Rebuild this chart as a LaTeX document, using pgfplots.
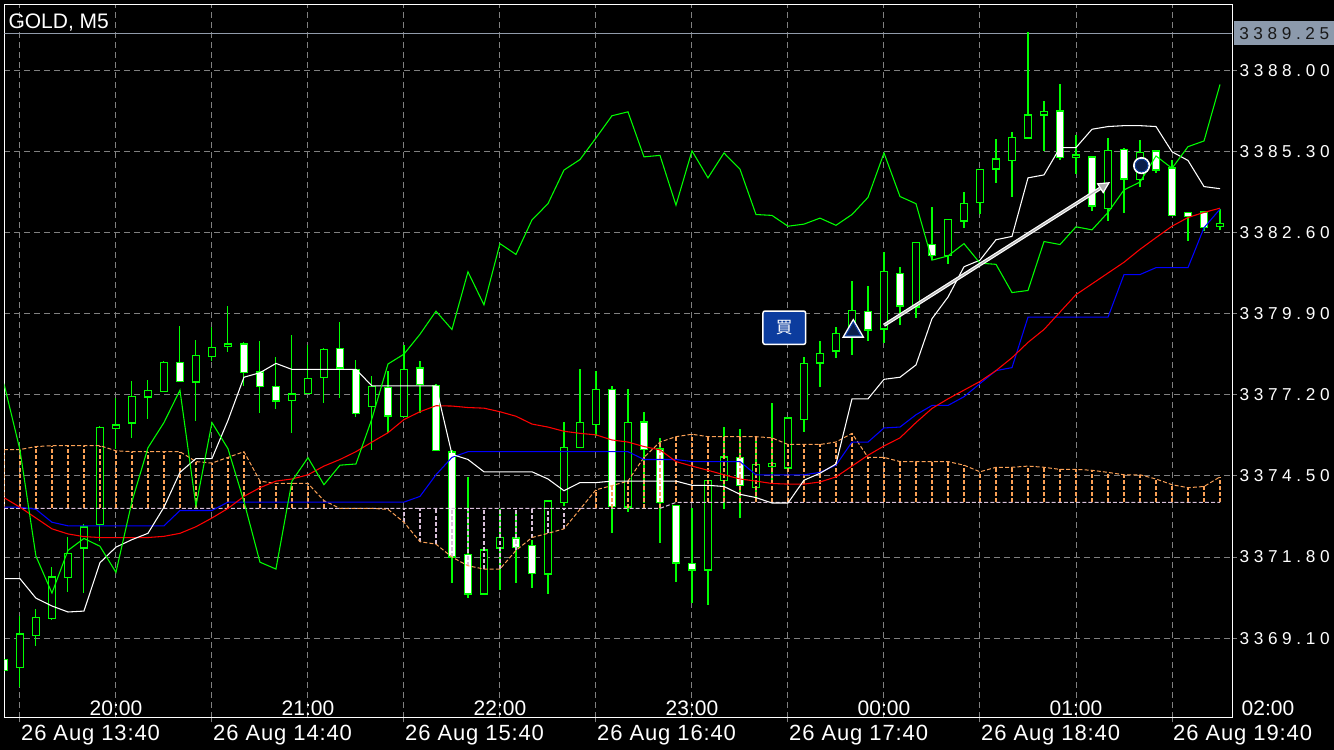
\documentclass[border=0pt]{standalone}
\usepackage{pgfplots}
\pgfplotsset{compat=1.18}
\usepackage{pgfplotstable}
\usepackage{fontspec}
\setmainfont{Liberation Sans}
\newfontfamily\pricefont[LetterSpace=27]{Liberation Sans}
\newfontfamily\datefont[LetterSpace=4]{Liberation Sans}
\newfontfamily\cjk{Noto Sans CJK JP}
\usetikzlibrary{arrows.meta,backgrounds}

\definecolor{mtgrid}{RGB}{128,128,128}
\definecolor{mtlime}{RGB}{0,255,0}
\definecolor{sandy}{RGB}{250,160,85}
\definecolor{thistle}{RGB}{216,191,216}
\definecolor{bidline}{RGB}{145,155,170}
\definecolor{bidbox}{RGB}{140,154,172}
\definecolor{buyblue}{RGB}{12,60,158}
\definecolor{navyfill}{RGB}{10,30,75}

% candles: i open high low close
\pgfplotstableread{
i o h l c
0 3368.15 3369.85 3367.48 3369.22
1 3369.23 3370.07 3368.84 3369.78
2 3369.78 3371.47 3369.71 3371.12
3 3371.15 3372.48 3370.65 3371.92
4 3372.13 3372.91 3370.60 3372.78
5 3372.91 3376.17 3372.33 3376.09
6 3376.12 3377.10 3375.41 3376.19
7 3376.28 3377.65 3375.77 3377.11
8 3377.17 3377.72 3376.42 3377.34
9 3377.36 3378.33 3377.33 3378.27
11 3377.65 3379.05 3376.35 3378.49
12 3378.51 3379.48 3378.34 3378.77
13 3378.86 3380.17 3378.63 3378.88
17 3377.04 3379.19 3375.94 3377.21
18 3377.27 3378.87 3377.25 3377.72
19 3377.82 3378.76 3376.93 3378.70
22 3376.84 3377.82 3375.37 3377.47
24 3376.52 3378.87 3376.50 3378.05
29 3370.60 3372.05 3370.57 3372.02
30 3372.12 3373.39 3370.69 3372.42
33 3371.27 3373.68 3370.57 3373.65
34 3373.65 3376.30 3373.50 3375.44
35 3375.48 3378.08 3375.46 3376.28
36 3376.25 3378.01 3375.84 3377.36
38 3373.50 3377.39 3373.32 3376.28
43 3371.40 3374.35 3370.21 3374.33
44 3374.38 3376.13 3373.39 3375.11
46 3374.15 3375.66 3373.68 3374.86
47 3374.86 3376.95 3374.33 3374.90
48 3374.79 3376.43 3374.77 3376.41
49 3376.41 3378.49 3375.99 3378.23
50 3378.30 3378.99 3377.47 3378.56
51 3378.69 3379.48 3378.44 3379.22
52 3379.24 3381.01 3378.54 3379.99
54 3379.42 3381.98 3378.95 3381.30
56 3380.15 3382.31 3379.78 3382.24
58 3381.88 3383.06 3381.55 3383.03
59 3383.03 3383.97 3382.77 3383.57
60 3383.64 3384.71 3383.25 3384.69
61 3384.75 3385.73 3384.26 3385.04
62 3385.05 3385.98 3383.81 3385.76
63 3385.78 3389.30 3385.76 3386.50
64 3386.56 3387.00 3385.33 3386.63
66 3385.16 3385.88 3384.58 3385.18
68 3383.45 3385.76 3382.99 3385.33
70 3384.40 3385.70 3384.14 3385.26
75 3382.85 3383.39 3382.70 3382.89
}\bull
\pgfplotstableread{
i o h l c
-1 3368.38 3368.50 3367.95 3368.05
10 3378.27 3379.52 3377.68 3377.68
14 3378.87 3378.99 3377.50 3377.97
15 3377.94 3378.99 3376.61 3377.50
16 3377.47 3378.49 3376.75 3377.03
20 3378.73 3379.64 3377.10 3378.12
21 3378.04 3378.37 3376.46 3376.61
23 3377.43 3378.01 3375.94 3376.52
25 3378.08 3378.34 3376.61 3377.58
26 3377.50 3377.55 3375.35 3375.37
27 3375.29 3375.35 3370.93 3371.83
28 3371.87 3374.47 3370.43 3370.60
31 3372.42 3373.39 3370.93 3372.16
32 3372.16 3372.38 3370.79 3371.29
37 3377.36 3377.50 3372.62 3373.50
39 3376.28 3376.64 3373.63 3375.41
40 3375.38 3375.77 3372.26 3373.65
41 3373.50 3373.55 3370.98 3371.63
42 3371.58 3373.46 3370.28 3371.40
45 3375.11 3376.06 3373.10 3374.21
53 3379.96 3380.82 3378.98 3379.38
55 3381.23 3381.47 3379.52 3380.20
57 3382.20 3383.45 3381.69 3381.88
65 3386.63 3387.58 3385.05 3385.13
67 3385.11 3385.13 3383.35 3383.52
69 3385.37 3385.44 3383.25 3384.43
71 3385.30 3385.32 3384.61 3384.72
72 3384.75 3385.01 3383.21 3383.21
73 3383.25 3383.27 3382.34 3383.18
74 3383.28 3383.32 3382.67 3382.82
}\bear
% indicator lines: G green, W white, R red, Bl blue, A sandy span, Bk thistle span
\pgfplotstableread{
i G W R Bl A Bk
-1 3377.58 3371.08 3373.78 3373.46 3375.38 3373.42
0 3375.37 3371.08 3373.46 3373.46 3375.38 3373.42
1 3371.83 3370.43 3373.10 3373.39 3375.48 3373.42
2 3370.60 3370.17 3372.74 3372.96 3375.51 3373.42
3 3372.02 3369.97 3372.57 3372.84 3375.51 3373.42
4 3372.42 3370.00 3372.48 3372.84 3375.51 3373.42
5 3372.16 3371.61 3372.45 3372.84 3375.51 3373.42
6 3371.29 3372.13 3372.45 3372.84 3375.34 3373.42
7 3373.65 3372.38 3372.45 3372.84 3375.31 3373.42
8 3375.44 3372.59 3372.45 3372.84 3375.31 3373.42
9 3376.28 3373.46 3372.49 3372.84 3375.31 3373.42
10 3377.36 3374.62 3372.59 3373.35 3375.31 3373.42
11 3373.50 3375.08 3372.81 3373.35 3374.98 3373.42
12 3376.28 3375.08 3373.10 3373.35 3374.93 3373.42
13 3375.41 3376.35 3373.42 3373.63 3375.12 3373.42
14 3373.65 3377.79 3373.82 3373.63 3375.31 3373.42
15 3371.63 3377.94 3374.11 3373.63 3374.33 3373.42
16 3371.40 3378.25 3374.33 3373.63 3374.25 3373.42
17 3374.33 3378.05 3374.40 3373.63 3374.25 3373.42
18 3375.11 3378.05 3374.54 3373.63 3374.25 3373.42
19 3374.21 3378.05 3374.83 3373.63 3373.68 3373.42
20 3374.86 3378.05 3375.05 3373.63 3373.42 3373.42
21 3374.90 3378.05 3375.31 3373.63 3373.42 3373.42
22 3376.41 3377.50 3375.63 3373.63 3373.42 3373.42
23 3378.23 3377.50 3375.94 3373.63 3373.39 3373.42
24 3378.56 3377.50 3376.38 3373.63 3372.96 3373.42
25 3379.22 3377.50 3376.64 3373.82 3372.31 3373.42
26 3379.99 3377.50 3376.84 3374.54 3372.23 3373.42
27 3379.38 3375.22 3376.83 3375.12 3371.80 3373.42
28 3381.30 3375.05 3376.78 3375.31 3371.51 3373.42
29 3380.20 3374.64 3376.76 3375.31 3371.40 3373.42
30 3382.24 3374.64 3376.64 3375.31 3371.40 3373.42
31 3381.88 3374.64 3376.49 3375.31 3372.02 3373.42
32 3383.03 3374.64 3376.23 3375.31 3372.45 3373.42
33 3383.57 3374.40 3376.13 3375.31 3372.59 3373.42
34 3384.69 3374.01 3375.99 3375.31 3372.74 3373.42
35 3385.04 3374.28 3375.92 3375.31 3373.39 3373.42
36 3385.76 3374.28 3375.87 3375.31 3374.04 3373.42
37 3386.50 3374.33 3375.70 3375.31 3374.18 3373.42
38 3386.63 3374.33 3375.63 3375.31 3374.33 3373.42
39 3385.13 3374.33 3375.48 3375.05 3375.12 3373.42
40 3385.18 3374.33 3375.37 3375.05 3375.63 3373.42
41 3383.52 3374.33 3374.98 3375.05 3375.81 3373.62
42 3385.33 3374.19 3374.83 3374.98 3375.89 3373.62
43 3384.43 3374.19 3374.69 3374.98 3375.81 3373.62
44 3385.26 3374.15 3374.54 3374.98 3375.81 3373.62
45 3384.72 3373.89 3374.40 3374.98 3375.81 3373.62
46 3383.21 3373.78 3374.33 3374.54 3375.81 3373.62
47 3383.18 3373.60 3374.25 3374.54 3375.77 3373.62
48 3382.82 3373.60 3374.23 3374.54 3375.55 3373.62
49 3382.89 3374.36 3374.23 3374.54 3375.55 3373.62
50 3383.09 3374.59 3374.30 3374.62 3375.55 3373.62
51 3382.85 3374.90 3374.47 3374.86 3375.63 3373.62
52 3383.21 3377.07 3374.83 3375.63 3375.92 3373.62
53 3383.78 3377.07 3375.19 3375.63 3375.12 3373.62
54 3385.26 3377.72 3375.50 3376.10 3375.12 3373.62
55 3383.81 3377.79 3375.77 3376.13 3374.98 3373.62
56 3383.57 3378.20 3376.28 3376.54 3374.98 3373.62
57 3381.69 3379.74 3376.75 3376.85 3374.98 3373.62
58 3381.83 3380.46 3377.07 3376.85 3374.98 3373.62
59 3382.24 3381.47 3377.36 3377.14 3374.86 3373.62
60 3381.59 3381.69 3377.65 3377.58 3374.64 3373.62
61 3381.55 3382.37 3378.01 3378.01 3374.79 3373.62
62 3380.61 3382.48 3378.44 3378.11 3374.79 3373.62
63 3380.68 3384.43 3378.95 3379.79 3374.83 3373.62
64 3382.31 3384.53 3379.38 3379.79 3374.79 3373.62
65 3382.21 3385.44 3379.96 3379.79 3374.72 3373.62
66 3382.80 3385.44 3380.54 3379.79 3374.72 3373.62
67 3382.70 3386.05 3380.90 3379.79 3374.69 3373.62
68 3383.28 3386.14 3381.26 3379.79 3374.62 3373.62
69 3384.03 3386.17 3381.62 3381.21 3374.54 3373.62
70 3384.29 3386.17 3382.05 3381.21 3374.54 3373.62
71 3385.16 3386.14 3382.44 3381.44 3374.40 3373.62
72 3384.75 3385.30 3382.82 3381.44 3374.21 3373.62
73 3385.47 3385.01 3383.11 3381.44 3374.11 3373.62
74 3385.66 3384.14 3383.28 3382.77 3374.15 3373.62
75 3387.54 3384.07 3383.42 3383.39 3374.47 3373.62
}\ind

\pgfplotsset{
  nomark/.style={only marks, mark=none, mark size=0pt, mark options={draw=none, fill=none}},
  wick/.style={nomark, error bars/.cd, y dir=both, y explicit,
    error mark=none, error bar style={mtlime, line width=0.8pt}, /pgfplots/.cd},
  body/.style 2 args={nomark, error bars/.cd, y dir=both, y explicit,
    error mark=none, error bar style={#1, line width=#2}, /pgfplots/.cd},
  hatch/.style={nomark, error bars/.cd, y dir=plus, y explicit,
    error mark=none, error bar style={draw=#1, line width=0.9pt, dash pattern=on 3pt off 1.6pt}, /pgfplots/.cd},
}
\tikzset{
  timelbl/.style={anchor=base, inner sep=0pt, yshift=1.3pt, text=white, font=\fontsize{15.75pt}{18pt}\selectfont},
  datelbl/.style={anchor=base west, inner sep=0pt, yshift=-17.25pt, text=white, font=\datefont\fontsize{16.5pt}{18pt}\selectfont},
}

\begin{document}
\begin{tikzpicture}[show background rectangle, background rectangle/.style={fill=black}, inner frame sep=0pt]
\begin{axis}[
  scale only axis, width=920.8pt, height=534.75pt,
  xmin=-0.98, xmax=75.75, ymin=3366.45, ymax=3390.20,
  axis background/.style={fill=black},
  axis line style={white, line width=0.75pt},
  clip mode=individual,
  xtick={0,12,...,72}, xticklabels={}, minor xtick={6,18,...,66},
  ytick={3369.10,3371.80,3374.50,3377.20,3379.90,3382.60,3385.30,3388.00}, yticklabels={},
  xtick pos=bottom, ytick pos=right, tick align=outside,
  major tick length=3.5pt, minor tick length=0pt,
  tick style={color=mtgrid, line width=0.75pt},
  grid=both,
  major grid style={mtgrid, line width=0.75pt, dash pattern=on 4.5pt off 3pt},
  minor grid style={mtgrid, line width=0.75pt, dash pattern=on 4.5pt off 3pt},
]
\coordinate (SW) at (rel axis cs:0,0);
\coordinate (NE) at (rel axis cs:1,1);

% current bid line
\addplot[bidline, line width=0.75pt] coordinates {(-1,3389.25) (76,3389.25)};

% candles
\addplot[wick] table[x=i, y expr={(\thisrow{h}+\thisrow{l})/2}, y error expr={(\thisrow{h}-\thisrow{l})/2}] {\bull};
\addplot[wick] table[x=i, y expr={(\thisrow{h}+\thisrow{l})/2}, y error expr={(\thisrow{h}-\thisrow{l})/2}] {\bear};
\addplot[body={mtlime}{6.4pt}] table[x=i, y expr={(\thisrow{o}+\thisrow{c})/2}, y error expr={abs(\thisrow{o}-\thisrow{c})/2+0.045}] {\bull};
\addplot[body={mtlime}{6.4pt}] table[x=i, y expr={(\thisrow{o}+\thisrow{c})/2}, y error expr={abs(\thisrow{o}-\thisrow{c})/2+0.045}] {\bear};
\addplot[body={black}{4.4pt}] table[x=i, y expr={(\thisrow{o}+\thisrow{c})/2}, y error expr={abs(\thisrow{o}-\thisrow{c})/2}] {\bull};
\addplot[body={white}{4.4pt}] table[x=i, y expr={(\thisrow{o}+\thisrow{c})/2}, y error expr={abs(\thisrow{o}-\thisrow{c})/2}] {\bear};

% cloud hatching between the two spans (thistle where A is below B, sandy above)
\addplot[restrict x to domain=19.5:35.5, hatch=thistle] table[x=i, y=A, y error expr={max(\thisrow{Bk}-\thisrow{A},0)}] {\ind};
\addplot[restrict x to domain=-1.5:19.5, hatch=sandy] table[x=i, y=Bk, y error expr={max(\thisrow{A}-\thisrow{Bk},0)}] {\ind};
\addplot[restrict x to domain=35.5:75.5, hatch=sandy] table[x=i, y=Bk, y error expr={max(\thisrow{A}-\thisrow{Bk},0)}] {\ind};
\addplot[thistle, line width=0.75pt, dash pattern=on 3pt off 1.6pt] table[x=i, y=Bk] {\ind};
\addplot[sandy, line width=0.75pt, dash pattern=on 3pt off 1.6pt] table[x=i, y=A] {\ind};

% lines
\addplot[blue, line width=0.8pt] table[x=i, y=Bl] {\ind};
\addplot[red, line width=0.8pt] table[x=i, y=R] {\ind};
\addplot[white, line width=0.8pt] table[x=i, y=W] {\ind};
\addplot[mtlime, line width=0.8pt] table[x=i, y=G] {\ind};

% trade line and markers
\addplot[white, line width=2.6pt, -{Triangle[length=9pt, width=9pt, line width=0.9pt, fill=gray!60!white, color=white]}]
  coordinates {(54.0,3379.52) (68.13,3384.29)};
\addplot[gray!55!white, line width=0.9pt, shorten >=9pt] coordinates {(54.0,3379.52) (68.13,3384.29)};
\addplot[only marks, mark=triangle*, mark size=8.3pt, mark options={fill=navyfill, draw=white, line width=1.4pt}] coordinates {(52.08,3379.32)};
\addplot[only marks, mark=triangle, mark size=6.8pt, mark options={draw=buyblue, line width=0.8pt}] coordinates {(52.08,3379.32)};
\addplot[only marks, mark=*, mark size=5.8pt, mark options={fill=navyfill, draw=white, line width=1.3pt}] coordinates {(70.1,3384.84)};
\addplot[only marks, mark=o, mark size=4.7pt, mark options={draw=buyblue, line width=0.7pt}] coordinates {(70.1,3384.84)};

% buy label
\node[fill=buyblue, draw=white, line width=1.1pt, rounded corners=1.5pt, minimum width=32pt, minimum height=25pt,
  inner sep=0pt, text=white, font=\cjk\fontsize{12.5pt}{14pt}\selectfont] at (axis cs:47.77,3379.44) {買};

% symbol
\node[anchor=base west, inner sep=0pt, text=white, font=\fontsize{15.75pt}{18pt}\selectfont]
  at ([xshift=3pt, yshift=-17.7pt]NE -| SW) {GOLD, M5};

% price labels
\pgfplotsinvokeforeach{3369.10,3371.80,3374.50,3377.20,3379.90,3382.60,3385.30,3388.00}{
  \node[anchor=west, inner sep=0pt, xshift=5.5pt, text=white, font=\pricefont\fontsize{12.9pt}{14pt}\selectfont]
    at (axis cs:75.75,#1) {#1};
}
\node[anchor=west, xshift=1.5pt, fill=bidbox, minimum width=75pt, minimum height=18.2pt, inner sep=0pt,
  text=black!90, font=\pricefont\fontsize{12.9pt}{14pt}\selectfont] at (axis cs:75.75,3389.25) {3389.25};

% server time labels inside the frame
\node[timelbl] at (axis cs:6,3366.45) {20:00};
\node[timelbl] at (axis cs:18,3366.45) {21:00};
\node[timelbl] at (axis cs:30,3366.45) {22:00};
\node[timelbl] at (axis cs:42,3366.45) {23:00};
\node[timelbl] at (axis cs:54,3366.45) {00:00};
\node[timelbl] at (axis cs:66,3366.45) {01:00};
\node[timelbl] at (axis cs:78,3366.45) {02:00};

% local time labels below the frame
\node[datelbl] at (axis cs:0.06,3366.45) {26 Aug 13:40};
\node[datelbl] at (axis cs:12.06,3366.45) {26 Aug 14:40};
\node[datelbl] at (axis cs:24.06,3366.45) {26 Aug 15:40};
\node[datelbl] at (axis cs:36.06,3366.45) {26 Aug 16:40};
\node[datelbl] at (axis cs:48.06,3366.45) {26 Aug 17:40};
\node[datelbl] at (axis cs:60.06,3366.45) {26 Aug 18:40};
\node[datelbl] at (axis cs:72.06,3366.45) {26 Aug 19:40};
\end{axis}
\pgfresetboundingbox
\path ([xshift=-3.2pt, yshift=-24.2pt]SW) rectangle ([xshift=76.5pt, yshift=3.5pt]NE);
\end{tikzpicture}
\end{document}
